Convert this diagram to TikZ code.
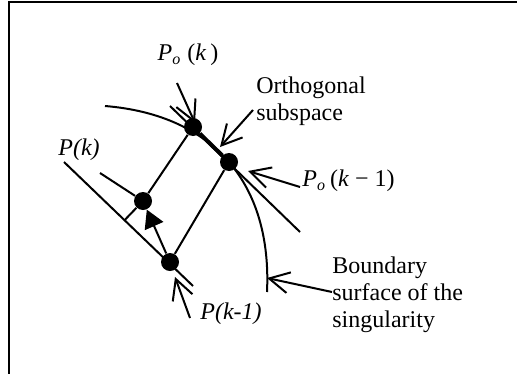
\documentclass[tikz,border=0pt]{standalone}
\usepackage{fontspec}
\setmainfont{Liberation Serif}
\usepackage{tikz}
\usetikzlibrary{arrows.meta,calc}

\begin{document}
\begin{tikzpicture}[
    x=0.5pt, y=-0.5pt,
    dot/.style={circle, fill=black, draw=none, minimum size=9pt, inner sep=0pt},
    line/.style={line width=1pt, draw=black},
    thickline/.style={line width=2pt, draw=black},
    ptr/.style={-{Straight Barb[length=10pt, width=10.5pt]}, line width=1pt, draw=black},
    fwd/.style={-{Triangle[length=9pt, width=10pt]}, line width=1pt, draw=black},
    lbl/.style={font=\fontsize{12}{13.6}\selectfont, inner sep=0pt, align=left}
]
    \useasboundingbox (0,0) rectangle (517,374);

    % Frame (cut at right and bottom)
    \draw[line width=1pt] (517,2.5) -- (9,2.5) -- (9,374);

    % Points
    \node[dot] (pok)  at (193,127) {};
    \node[dot] (pokm) at (229,162) {};
    \node[dot] (pk)   at (143,201) {};
    \node[dot] (pkm)  at (170,262) {};

    % Boundary surface of the singularity
    \draw[line] (105,106) .. controls (215,115) and (272,185) .. (267,292);

    % Orthogonal subspace
    \coordinate (sub1) at (170,106);
    \coordinate (sub2) at (300,232);
    \draw[line] (sub1) -- (sub2);
    \draw[thickline] (pok) -- (pokm);

    % Line through P(k-1)
    \coordinate (pka) at (64,162);
    \coordinate (pkb) at (193,286);
    \draw[line] (pka) -- (pkb);
    \draw[line] (pk) -- ($(pka)!(pk)!(pkb)$);
    \coordinate (lead) at (100,173);
    \draw[line] (lead) -- (pk);

    % Parallelogram
    \draw[line] (pok) -- (pk);
    \draw[line] (pokm) -- (pkm);
    \draw[fwd] (pkm) -- (pk);

    % Labels
    \node[lbl] (lpok) at (188,55) {\textit{P}\textsubscript{\textit{o}}\hspace{3pt}(\textit{k}\,)};
    \node[lbl, anchor=west] (lsub) at (256,101) {Orthogonal\\subspace};
    \node[lbl, anchor=west] (lpokm) at (302,181) {\textit{P}\textsubscript{\textit{o}}\,(\textit{k} − 1)};
    \node[lbl] (lpk) at (79,150) {\textit{P(k)}};
    \node[lbl, anchor=west] (lpkm) at (200,314) {\textit{P(k-1)}};
    \node[lbl, anchor=west] (lbnd) at (332,295) {Boundary\\surface of the\\singularity};

    % Pointers
    \coordinate (t1) at (177,83);  \coordinate (h1) at (195,123);
    \coordinate (t2) at (253,110); \coordinate (h2) at (220,147);
    \coordinate (t3) at (300,187); \coordinate (h3) at (248,171);
    \coordinate (t4) at (332,292); \coordinate (h4) at (267,278);
    \coordinate (t5) at (190,318); \coordinate (h5) at (175,277);
    \draw[ptr] (t1) -- (h1);
    \draw[ptr] (t2) -- (h2);
    \draw[ptr] (t3) -- (h3);
    \draw[ptr] (t4) -- (h4);
    \draw[ptr] (t5) -- (h5);

\end{tikzpicture}
\end{document}
